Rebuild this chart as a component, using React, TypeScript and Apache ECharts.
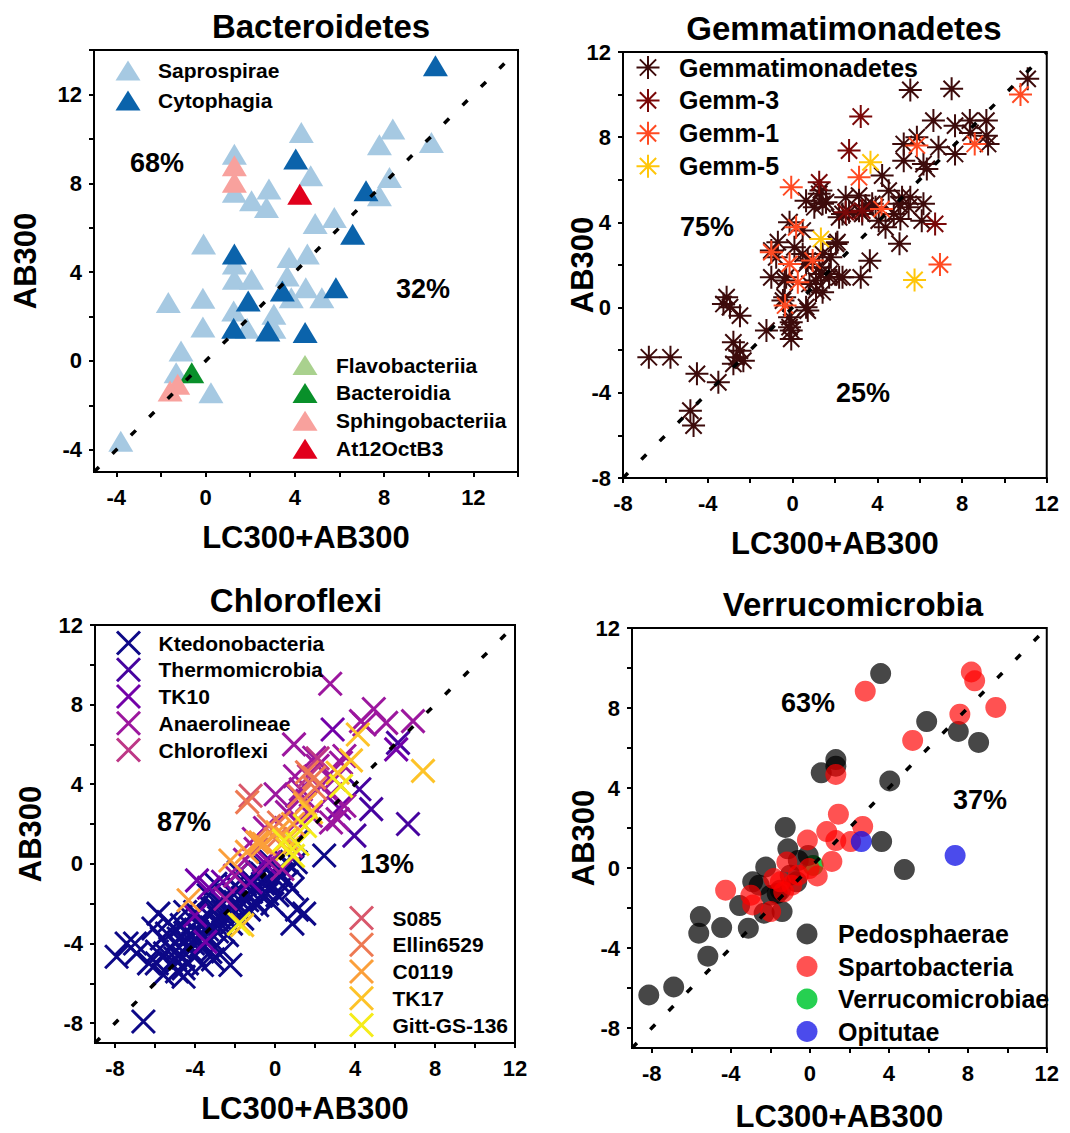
import React, { useEffect, useRef } from "react";
import * as echarts from "echarts";

const FONT = "'Liberation Sans', Arial, Helvetica, sans-serif";
const STAR = "path://M0,10L20,10M10,0L10,20M2.93,2.93L17.07,17.07M17.07,2.93L2.93,17.07";
const CROSS = "path://M0,0L20,20M20,0L0,20";

// ---------- Panel 1: Bacteroidetes ----------
const saprospirae = [
  [8.39, 10.44], [4.29, 10.29], [7.79, 9.73], [10.12, 9.84], [1.29, 9.31], [4.71, 8.34], [8.24, 8.26],
  [7.79, 7.44], [1.29, 7.59], [2.84, 7.74], [2.06, 7.21], [2.73, 6.91], [4.91, 6.19], [5.77, 6.46],
  [-0.09, 5.26], [1.29, 4.36], [3.74, 4.66], [4.56, 4.81], [1.29, 3.68], [2.06, 3.68], [3.66, 3.83],
  [4.49, 3.3], [3.84, 2.85], [5.21, 2.85], [-1.67, 2.63], [-0.12, 2.82], [1.26, 2.25], [3.06, 2.1],
  [-0.12, 1.53], [1.86, 1.47], [3.06, 1.47], [-1.1, 0.45], [-1.32, -0.53], [0.24, -1.43], [-3.8, -3.61],
];
const cytophagia = [
  [10.3, 13.29], [4.04, 9.09], [7.19, 7.66], [6.59, 5.71], [1.29, 4.81], [5.84, 3.3], [1.91, 2.7],
  [3.44, 3.15], [1.26, 1.47], [2.79, 1.35], [4.46, 1.28],
];
const flavobacteriia: number[][] = [];
const bacteroidia = [[-0.62, -0.53]];
const sphingobacteriia = [[1.29, 8.79], [1.29, 8.04], [-1.25, -1.05], [-1.59, -1.35]];
const at12OctB3 = [[4.22, 7.51]];

// ---------- Panel 2: Gemmatimonadetes ----------
const gemmatimonadetes = [
  [11.1, 10.74], [5.56, 10.22], [7.51, 10.27], [6.65, 8.78], [7.67, 8.54], [8.37, 8.78], [9.15, 8.78],
  [9.15, 8.07], [8.4, 8.2], [5.25, 7.68], [5.87, 8.0], [6.89, 7.53], [7.67, 7.21], [9.23, 7.68],
  [5.25, 6.9], [6.34, 6.51], [6.18, 6.74], [4.23, 6.2], [0.64, 5.02], [1.26, 5.34], [1.58, 4.95],
  [1.03, 4.71], [1.42, 4.87], [1.34, 5.5], [3.29, 4.4], [3.92, 4.71], [2.2, 4.24], [3.14, 5.26],
  [3.45, 4.79], [3.14, 4.55], [3.76, 4.87], [4.54, 5.49], [5.01, 4.87], [5.56, 5.18], [5.09, 4.16],
  [4.39, 3.77], [5.17, 5.18], [5.48, 4.71], [6.18, 4.87], [4.07, 4.08], [4.78, 4.4], [6.1, 4.08],
  [2.36, 4.4], [2.67, 4.48], [2.51, 5.18], [-0.14, 4.01], [-0.69, 3.07], [0.48, 3.62], [2.12, 3.07],
  [2.05, 2.99], [5.05, 3.0], [3.65, 2.2], [-1.0, 2.68], [-0.77, 2.36], [0.09, 2.83], [0.64, 2.05],
  [0.48, 2.52], [0.72, 2.21], [1.26, 1.89], [1.81, 2.36], [1.42, 2.52], [1.73, 1.58], [-1.0, 1.42],
  [-0.3, 1.42], [-0.37, 1.27], [0.8, 1.11], [1.34, 1.58], [1.11, 1.27], [1.73, 1.42], [2.2, 1.42],
  [3.22, 1.42], [2.36, 1.42], [1.11, 0.8], [1.42, 0.72], [-0.37, 0.49], [-0.45, 0.33], [0.64, 0.02],
  [0.72, -0.14], [-0.14, -0.45], [-0.06, -0.69], [-0.14, -0.92], [-0.06, -1.08], [-0.06, -1.47],
  [-3.11, 0.49], [-3.26, 0.17], [-2.95, 0.02], [-2.48, -0.38], [-1.23, -1.08], [-2.79, -1.63],
  [-2.48, -2.02], [-2.64, -2.33], [-2.32, -2.49], [-2.79, -2.64], [-6.78, -2.33], [-5.76, -2.33],
  [-4.51, -3.11], [-3.5, -3.51], [-4.82, -4.84], [-4.67, -5.54],
];
const gemm3 = [[3.22, 8.97], [2.67, 7.37], [1.26, 5.88], [6.73, 3.93], [2.51, 4.48], [3.29, 4.55]];
const gemm1 = [
  [10.76, 10.0], [5.87, 7.61], [8.6, 7.68], [3.14, 6.12], [-0.06, 5.65], [0.17, 3.77], [-1.0, 2.6],
  [-0.14, 2.05], [0.95, 2.21], [0.25, 1.19], [-0.35, 0.1], [6.96, 2.02], [4.2, 4.63],
];
const gemm5 = [[3.68, 6.82], [1.34, 3.22], [5.76, 1.3]];

// ---------- Panel 3: Chloroflexi ----------
const ktedonobacteria = [
  [-6.58, -7.92], [-7.92, -4.67], [-7.42, -4.0], [-6.92, -4.5], [-5.83, -2.5], [-5.91, -5.0],
  [-5.58, -5.58], [-4.82, -3.75], [-4.66, -3.08], [-3.99, -2.42], [-4.24, -4.33], [-4.57, -5.25],
  [-3.65, -5.08], [-2.23, -5.08], [-3.23, -4.42], [-3.07, -3.25], [-2.4, -2.42], [-3.32, -1.58],
  [-1.98, -1.08], [-1.39, -1.83], [-0.97, -1.17], [-0.39, -1.5], [-0.13, -2.0], [0.12, -0.83],
  [1.46, -2.5], [0.87, -3.0], [1.1, -2.3], [-2.73, -3.0], [-3.57, -3.58], [-1.64, -2.75],
  [-4.49, -2.42], [-5.24, -4.25], [-6.08, -3.25], [-1.31, -0.75], [-0.64, -0.5], [0.54, 0.08],
  [1.04, 1.08], [-4.99, -4.75], [-3.99, -3.75], [-3.15, -2.25], [-1.98, -1.92], [-2.4, -3.58],
  [-5.66, -3.75], [-1.81, -0.42], [-0.89, -2.08], [0.12, -1.58], [0.87, -1.25], [-4.57, -5.67],
  [-3.74, -3.08], [-5.33, -2.92], [-2.98, -1.0], [2.46, 0.42], [0.87, -0.17], [1.04, 0.08],
  [-0.55, -0.83], [-4.3, -3.6], [-4.0, -4.6], [-3.3, -3.9], [-2.8, -2.7], [-2.1, -2.5], [-1.2, -1.4],
  [-0.6, -1.0], [-5.0, -3.3], [-7.0, -4.0],
  [-5.5, -4.5], [-5.2, -5.0], [-4.8, -4.2], [-4.5, -3.9], [-4.2, -3.2], [-3.9, -3.4], [-3.6, -2.9],
  [-3.3, -2.6], [-3.0, -2.2], [-2.7, -2.0], [-2.4, -1.7], [-2.1, -1.5], [-1.8, -1.3], [-1.5, -1.0],
  [-1.2, -0.8], [-0.9, -0.4], [-0.5, -0.2], [-0.2, 0.1], [-4.6, -4.7], [-4.1, -4.0], [-3.7, -4.1],
  [-3.4, -3.3], [-2.9, -3.4], [-2.6, -2.4], [-2.2, -3.0], [-1.9, -2.2], [-1.6, -1.7], [-1.3, -2.3],
  [-1.0, -1.9], [-0.7, -1.6], [-0.3, -0.9], [0.3, -0.5], [0.6, -0.9], [-5.9, -4.4], [-6.3, -5.0],
  [-5.4, -3.5], [-4.9, -5.4], [-4.4, -5.0], [-3.1, -4.8], [-2.6, -4.4],
];
const thermomicrobia = [[6.65, 2.0], [3.97, 1.42], [4.81, 2.75], [4.22, 3.75], [6.15, 6.08]];
const tk10 = [
  [2.88, 6.75], [6.06, 5.75], [1.12, 3.42], [-3.9, -0.83], [-3.48, -3.92], [-0.55, 0.08], [-1.22, -0.92],
  [3.2, 2.8], [-2.6, -0.9], [-3.3, -1.2], [-4.0, -2.6],
];
const anaerolineae = [
  [2.76, 9.05], [4.94, 7.78], [4.3, 7.17], [5.56, 7.08], [6.9, 7.17], [0.95, 6.0], [1.96, 5.33],
  [3.47, 5.42], [2.13, 4.92], [3.3, 5.08], [0.03, 3.5], [1.29, 3.75], [1.62, 3.17], [2.8, 3.5],
  [1.79, 2.42], [2.8, 2.08], [3.13, 2.25], [3.47, 2.92], [-1.06, 1.25], [-2.48, -1.75], [-0.3, 0.08],
  [0.37, -0.25], [-0.97, 0.75], [2.96, 4.25], [4.47, 7.0], [0.6, 2.6], [1.2, 2.2], [-0.5, 1.8],
  [2.3, 3.9], [1.0, 4.4], [-2.0, -0.6], [-1.5, 0.2], [0.8, 0.9],
];
const chloroflexiCls = [[2.13, 5.3], [1.7, 4.4]];
const s085 = [[-1.22, 3.42]];
const ellin6529 = [[-1.39, 3.1], [0.2, 2.08], [1.96, 4.33], [0.03, 1.25], [1.6, 4.6], [-0.3, 1.9], [1.2, 3.4], [2.0, 3.8]];
const c0119 = [
  [-2.23, 0.17], [-0.89, 1.08], [0.12, 1.58], [-4.32, -1.83], [0.62, 1.25], [-0.55, 1.0], [-0.72, 1.08],
  [-1.4, 0.6], [0.9, 2.0], [1.5, 3.0],
];
const tk17 = [[4.14, 6.5], [7.4, 4.67], [3.13, 4.58], [-1.64, -3.08], [0.62, 0.75], [1.8, 2.6], [3.8, 5.2]];
const gittGS136 = [[3.3, 3.92], [0.45, 1.17], [1.12, 1.0], [-1.81, -3.0], [0.9, 0.4], [1.5, 1.9]];

// ---------- Panel 4: Verrucomicrobia ----------
const pedosphaerae = [
  [3.59, 9.72], [5.92, 7.32], [7.52, 6.83], [8.55, 6.28], [1.32, 5.42], [1.32, 5.09], [0.58, 4.76],
  [4.05, 4.35], [-1.24, 2.03], [3.64, 1.32], [4.79, -0.08], [-1.11, 0.96], [-0.08, 0.63], [-0.58, 0.38],
  [-2.23, 0.05], [-2.89, -0.69], [-2.56, -0.86], [-3.55, -1.88], [-1.98, -1.36], [-1.49, -1.11],
  [-1.4, -2.18], [-5.54, -2.43], [-5.62, -3.26], [-4.46, -2.98], [-3.11, -3.01], [-2.31, -2.26],
  [-5.16, -4.41], [-6.89, -5.95], [-8.15, -6.35], [-0.99, -0.36], [-1.65, -1.27], [-0.66, -0.69],
];
const spartobacteria = [
  [8.18, 9.8], [8.35, 9.36], [2.81, 8.84], [9.42, 8.03], [7.6, 7.69], [5.21, 6.38], [1.32, 4.68],
  [1.45, 2.69], [0.86, 1.82], [2.68, 2.08], [1.32, 1.37], [2.07, 1.32], [-0.12, 1.4], [1.12, 0.33],
  [0.38, -0.4], [-0.03, -0.03], [-1.16, 0.3], [-4.26, -1.11], [-1.82, -0.53], [-1.49, -0.69],
  [-2.98, -1.36], [-2.89, -1.85], [-1.98, -2.18], [-1.32, -1.19], [-0.91, -0.86], [-0.58, -0.36],
];
const verrucomicrobiae = [[0.17, 0.13]];
const opitutae = [[2.61, 1.32], [7.36, 0.63]];

// ---------- Axis ticks ----------
const ticksP1 = [-4, -2, 0, 2, 4, 6, 8, 10, 12, 14];
const labelsP1 = [-4, 0, 4, 8, 12];
const ticksP234 = [-8, -6, -4, -2, 0, 2, 4, 6, 8, 10, 12];
const labelsP234 = [-8, -4, 0, 4, 8, 12];

const panels = [
  { grid: { left: 86, top: 42, width: 424, height: 422 }, min: -5, max: 14, ticks: ticksP1, labels: labelsP1, xGap: 50, yGap: 53 },
  { grid: { left: 615, top: 44, width: 427, height: 426 }, min: -8, max: 12, ticks: ticksP234, labels: labelsP234, xGap: 50, yGap: 25 },
  { grid: { left: 87, top: 617, width: 420, height: 418 }, min: -9, max: 12, ticks: ticksP234, labels: labelsP234, xGap: 50, yGap: 49 },
  { grid: { left: 624, top: 620, width: 423, height: 422 }, min: -9, max: 12, ticks: ticksP234, labels: labelsP234, xGap: 53, yGap: 33 },
];

function axis(p: any, i: number, isX: boolean) {
  return {
    type: "value",
    gridIndex: i,
    min: p.min,
    max: p.max,
    name: isX ? "LC300+AB300" : "AB300",
    nameLocation: "middle",
    nameGap: isX ? p.xGap : p.yGap,
    nameMoveOverlap: false,
    nameTextStyle: { fontSize: 31, fontWeight: "bold", color: "#000", fontFamily: FONT },
    axisLine: { show: true, onZero: false, lineStyle: { color: "#000", width: 2 } },
    axisTick: { show: true, inside: false, length: 5, lineStyle: { color: "#000", width: 2 }, customValues: p.ticks },
    axisLabel: {
      show: true, customValues: p.labels, fontSize: 22, fontWeight: "bold", color: "#000",
      fontFamily: FONT, margin: isX ? 14 : 12,
    },
    splitLine: { show: false },
    minorTick: { show: false },
  };
}

function sc(name: string, data: number[][], i: number, symbol: string, size: any, color: string, border = 0) {
  return {
    type: "scatter",
    name,
    xAxisIndex: i,
    yAxisIndex: i,
    data,
    symbol,
    symbolSize: size,
    itemStyle: { color, borderColor: color, borderWidth: border, opacity: 1 },
    emphasis: { disabled: true },
    z: 2,
  };
}

function diag(i: number) {
  const p = panels[i];
  return {
    type: "line",
    xAxisIndex: i,
    yAxisIndex: i,
    data: [[p.min, p.min], [p.max, p.max]],
    symbol: "none",
    silent: true,
    lineStyle: { color: "#000", width: 3.5, type: [7, 19] },
    z: 10,
  };
}

function legend(data: string[], left: number, top: number, iw: number, ih: number, gap: number, fs: number, pad: number, bw?: number) {
  return {
    data,
    orient: "vertical",
    left,
    top,
    padding: 0,
    itemWidth: iw,
    itemHeight: ih,
    itemGap: gap,
    selectedMode: false,
    itemStyle: bw !== undefined ? { borderWidth: bw } : {},
    textStyle: { fontSize: fs, fontWeight: "bold", color: "#000", fontFamily: FONT, lineHeight: ih, padding: [0, 0, 0, pad] },
  };
}

function txt(text: string, x: number, y: number, size: number) {
  return {
    type: "text",
    x: x - 8,
    y: y - 8,
    style: { text, fontSize: size, fontWeight: "bold", fontFamily: FONT, fill: "#000", align: "center", verticalAlign: "middle" },
    z: 20,
  };
}

export default function App() {
  const ref = useRef<HTMLDivElement>(null);
  useEffect(() => {
    if (!ref.current) return;
    const chart = echarts.init(ref.current, undefined, { renderer: "svg" });
    const C = {
      sap: "#A6C9E2", cyt: "#0B63AB", fla: "#A9D18E", bac: "#09902A", sph: "#F8A19D", at12: "#E1001C",
      g0: "#3D0B0B", g3: "#7A0808", g1: "#FF4A22", g5: "#FFC60A",
    };
    const option: any = {
      animation: false,
      backgroundColor: "#fff",
      grid: panels.map((p) => ({ ...p.grid, show: true, borderColor: "#000", borderWidth: 2, backgroundColor: "transparent", containLabel: false })),
      xAxis: panels.map((p, i) => axis(p, i, true)),
      yAxis: panels.map((p, i) => axis(p, i, false)),
      legend: [
        legend(["Saprospirae", "Cytophagia"], 107.5, 52, 25, 20, 9, 21, 12.5),
        legend(["Flavobacteriia", "Bacteroidia", "Sphingobacteriia", "At12OctB3"], 284.5, 346.5, 25, 20, 6.9, 21, 13.5),
        legend(["Gemmatimonadetes", "Gemm-3", "Gemm-1", "Gemm-5"], 627.5, 47, 23, 23, 7.9, 25, 14.5, 2),
        legend(["Ktedonobacteria", "Thermomicrobia", "TK10", "Anaerolineae", "Chloroflexi"], 107.5, 622, 23, 23, 0.75, 21, 13.5, 3),
        legend(["S085", "Ellin6529", "C0119", "TK17", "Gitt-GS-136"], 340.5, 897, 23, 23, 0.75, 21, 14.5, 3),
        legend(["Pedosphaerae", "Spartobacteria", "Verrucomicrobiae", "Opitutae"], 788.5, 913.5, 21, 21, 7.5, 25, 15.5),
      ],
      graphic: [
        txt("Bacteroidetes", 321, 26, 33),
        txt("Gemmatimonadetes", 844, 28, 33),
        txt("Chloroflexi", 296, 600, 33),
        txt("Verrucomicrobia", 853, 604, 33),
        txt("68%", 157, 163, 27),
        txt("32%", 423, 289, 27),
        txt("75%", 707, 227, 27),
        txt("25%", 863, 393, 27),
        txt("87%", 184, 822, 27),
        txt("13%", 387, 864, 27),
        txt("63%", 808, 703, 27),
        txt("37%", 980, 800, 27),
      ],
      series: [
        sc("Saprospirae", saprospirae, 0, "triangle", [25, 21], C.sap),
        sc("Cytophagia", cytophagia, 0, "triangle", [25, 21], C.cyt),
        sc("Flavobacteriia", flavobacteriia, 0, "triangle", [25, 21], C.fla),
        sc("Bacteroidia", bacteroidia, 0, "triangle", [25, 21], C.bac),
        sc("Sphingobacteriia", sphingobacteriia, 0, "triangle", [25, 21], C.sph),
        sc("At12OctB3", at12OctB3, 0, "triangle", [25, 21], C.at12),
        diag(0),

        sc("Gemmatimonadetes", gemmatimonadetes, 1, STAR, 23, C.g0, 2),
        sc("Gemm-3", gemm3, 1, STAR, 23, C.g3, 2),
        sc("Gemm-1", gemm1, 1, STAR, 23, C.g1, 2),
        sc("Gemm-5", gemm5, 1, STAR, 23, C.g5, 2),
        diag(1),

        sc("Ktedonobacteria", ktedonobacteria, 2, CROSS, 23, "#0D0887", 3),
        sc("Thermomicrobia", thermomicrobia, 2, CROSS, 23, "#46039F", 3),
        sc("TK10", tk10, 2, CROSS, 23, "#7201A8", 3),
        sc("Anaerolineae", anaerolineae, 2, CROSS, 23, "#9C179E", 3),
        sc("Chloroflexi", chloroflexiCls, 2, CROSS, 23, "#BD3786", 3),
        sc("S085", s085, 2, CROSS, 23, "#D8576B", 3),
        sc("Ellin6529", ellin6529, 2, CROSS, 23, "#ED7953", 3),
        sc("C0119", c0119, 2, CROSS, 23, "#FB9F3A", 3),
        sc("TK17", tk17, 2, CROSS, 23, "#FDC328", 3),
        sc("Gitt-GS-136", gittGS136, 2, CROSS, 23, "#F5EC1A", 3),
        diag(2),

        sc("Verrucomicrobiae", verrucomicrobiae, 3, "circle", 21, "rgba(0,200,50,0.85)"),
        sc("Pedosphaerae", pedosphaerae, 3, "circle", 21, "rgba(0,0,0,0.72)"),
        sc("Spartobacteria", spartobacteria, 3, "circle", 21, "rgba(255,0,0,0.68)"),
        sc("Opitutae", opitutae, 3, "circle", 21, "rgba(15,15,230,0.75)"),
        diag(3),
      ],
    };
    chart.setOption(option);
    return () => chart.dispose();
  }, []);
  return <div ref={ref} style={{ width: 1054, height: 1125 }} />;
}
